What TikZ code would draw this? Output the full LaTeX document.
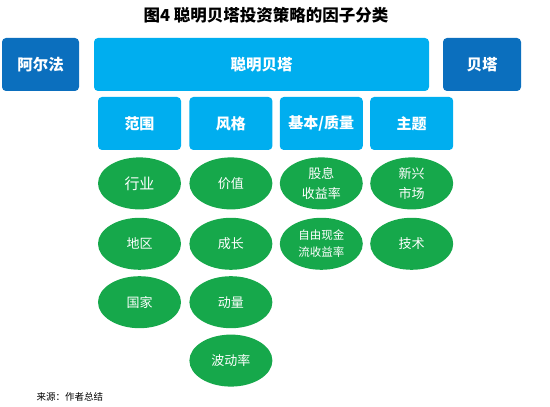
\documentclass[tikz,border=0pt]{standalone}
\usepackage{fontspec}
\setmainfont{Noto Sans CJK SC}
\usepackage{tikz}
\usetikzlibrary{positioning,shapes.geometric}
\usepackage{xcolor}
\definecolor{darkblue}{HTML}{0B6FBE}
\definecolor{lightblue}{HTML}{00AEEF}
\definecolor{leafgreen}{HTML}{16A84B}

\tikzset{
  topbox/.style={fill=darkblue,text=white,rounded corners=4pt,minimum width=77pt,minimum height=53pt,font=\fontsize{15.5}{18}\selectfont\bfseries},
  catbox/.style={fill=lightblue,text=white,rounded corners=4pt,minimum width=83pt,minimum height=53pt,inner sep=0pt,font=\fontsize{15}{18}\selectfont\bfseries},
  factor/.style={ellipse,fill=leafgreen,text=white,minimum width=83pt,minimum height=52pt,inner sep=0pt,align=center,font=\fontsize{13}{20}\selectfont}
}

\begin{document}
\begin{tikzpicture}[x=1pt,y=1pt,node distance=7pt and 8pt]
\useasboundingbox (0,0) rectangle (550,407);
\node (title) at (266,392) {\fontsize{16.5}{20}\selectfont\bfseries 图4 聪明贝塔投资策略的因子分类};
\node (alpha) [topbox] at (40.5,342.5) {阿尔法};
\node (smart) [catbox,minimum width=335pt,font=\fontsize{15.5}{18}\selectfont\bfseries] at (261.5,342.5) {聪明贝塔};
\node (beta) [topbox,minimum width=78pt] at (482,342.5) {贝塔};
% categories
\node (scope) [catbox] at (139.5,283.5) {范围};
\node (style) [catbox,right=of scope] {风格};
\node (basic) [catbox,right=7pt of style] {基本/质量};
\node (theme) [catbox,right=7pt of basic] {主题};
% factors
\node (ind) [factor,below=of scope,font=\fontsize{15}{20}\selectfont] {行业};
\node (reg) [factor,below=8pt of ind] {地区};
\node (cty) [factor,below=6pt of reg] {国家};
\node (val) [factor,below=of style] {价值};
\node (grw) [factor,below=8pt of val] {成长};
\node (mom) [factor,below=6pt of grw] {动量};
\node (vol) [factor,below=6pt of mom] {波动率};
\node (div) [factor,below=of basic] {股息\\收益率};
\node (fcf) [factor,below=8pt of div,font=\fontsize{11.5}{17}\selectfont] {自由现金\\流收益率};
\node (emk) [factor,below=of theme] {新兴\\市场};
\node (tec) [factor,below=8pt of emk] {技术};
\node (src) [anchor=west,font=\fontsize{9.5}{11}\selectfont] at (33,10) {来源：作者总结};
\end{tikzpicture}
\end{document}
